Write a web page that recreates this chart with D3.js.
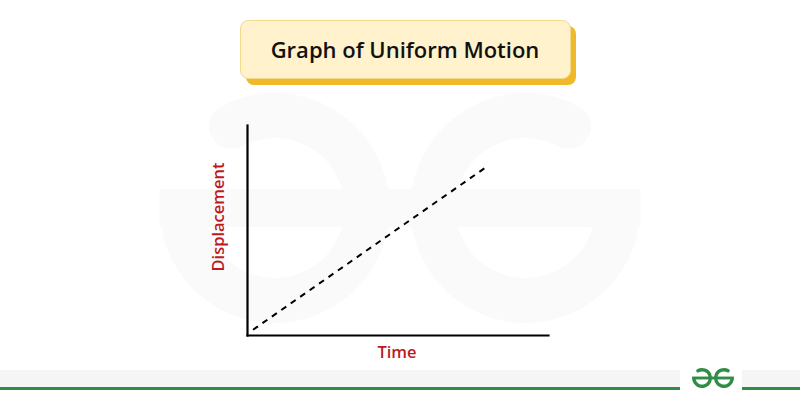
<!DOCTYPE html>
<html>
<head>
<meta charset="utf-8">
<script src="https://cdn.jsdelivr.net/npm/d3@7"></script>
<style>
  html, body { margin: 0; padding: 0; background: #ffffff; }
  svg { display: block; }
</style>
</head>
<body>
<svg id="chart" width="800" height="400"></svg>
<script>
// ---- data ----
const titleText = "Graph of Uniform Motion";
const xLabel = "Time";
const yLabel = "Displacement";
const timeValues = [0.2, 7.9];          // start and end of the uniform-motion line
const displacementValues = [0.25, 7.95];
const xDomain = [0, 10];
const yDomain = [0, 10];

const svg = d3.select("#chart");

// ---- logo helper ----
function drawLogo(g, cx, cy, ro, ri, color) {
  const cL = cx - ro - (ro * 0.09), cR = cx + ro + (ro * 0.09);
  const arc = d3.arc().innerRadius(ri).outerRadius(ro).cornerRadius((ro - ri) / 2);
  const deg = Math.PI / 180;
  g.append("path")
    .attr("transform", `translate(${cL},${cy})`)
    .attr("d", arc({startAngle: -42 * deg, endAngle: 270 * deg}))
    .attr("fill", color);
  g.append("path")
    .attr("transform", `translate(${cR},${cy})`)
    .attr("d", arc({startAngle: 90 * deg, endAngle: 402 * deg}))
    .attr("fill", color);
  const bh = (ro - ri) * 0.85;
  g.append("rect")
    .attr("x", cL - ro).attr("y", cy - bh / 2)
    .attr("width", (cR + ro) - (cL - ro)).attr("height", bh)
    .attr("fill", color);
}

// big faint watermark
drawLogo(svg.append("g"), 400, 208, 115, 70, "#fafafa");

// ---- bottom band ----
svg.append("rect").attr("x", 0).attr("y", 370).attr("width", 800).attr("height", 18).attr("fill", "#f5f5f5");
svg.append("rect").attr("x", 0).attr("y", 387).attr("width", 800).attr("height", 3).attr("fill", "#2f8d46");
svg.append("rect").attr("x", 680).attr("y", 362).attr("width", 62).attr("height", 38).attr("fill", "#ffffff");
drawLogo(svg.append("g"), 713, 378, 10, 6.6, "#2f8d46");

// ---- title box ----
svg.append("rect").attr("x", 246).attr("y", 26).attr("width", 330).attr("height", 59)
  .attr("rx", 8).attr("fill", "#f0b929");
svg.append("rect").attr("x", 240.5).attr("y", 20.5).attr("width", 330).attr("height", 58)
  .attr("rx", 8).attr("fill", "#fff2cc").attr("stroke", "#f3d98a").attr("stroke-width", 1);
svg.append("text").attr("x", 405).attr("y", 57.5)
  .attr("text-anchor", "middle")
  .attr("font-family", "'Open Sans', Lato, sans-serif")
  .attr("font-weight", 600).attr("font-size", 22)
  .attr("fill", "#111111")
  .text(titleText);

// ---- chart ----
const x = d3.scaleLinear().domain(xDomain).range([247, 548]);
const y = d3.scaleLinear().domain(yDomain).range([335, 125]);

const xAxis = d3.axisBottom(x).tickValues([]).tickSizeOuter(0);
const yAxis = d3.axisLeft(y).tickValues([]).tickSizeOuter(0);

const gx = svg.append("g").attr("transform", `translate(0,${y(0)})`).call(xAxis);
const gy = svg.append("g").attr("transform", `translate(${x(0)},0)`).call(yAxis);
[gx, gy].forEach(g => g.select(".domain")
  .attr("stroke", "#000").attr("stroke-width", 2.2).attr("stroke-linecap", "square"));

const pts = timeValues.map((t, i) => [t, displacementValues[i]]);
svg.append("path")
  .datum(pts)
  .attr("d", d3.line().x(d => x(d[0])).y(d => y(d[1])))
  .attr("fill", "none")
  .attr("stroke", "#000")
  .attr("stroke-width", 2)
  .attr("stroke-dasharray", "6,5.5");

// axis labels
svg.append("text").attr("x", 397).attr("y", 358)
  .attr("text-anchor", "middle")
  .attr("font-family", "'Open Sans', Lato, sans-serif")
  .attr("font-weight", 600).attr("font-size", 16.5)
  .attr("fill", "#bb1a1f")
  .text(xLabel);

svg.append("text")
  .attr("transform", `translate(224,${(125 + 335) / 2 - 13}) rotate(-90)`)
  .attr("text-anchor", "middle")
  .attr("font-family", "'Open Sans', Lato, sans-serif")
  .attr("font-weight", 600).attr("font-size", 16.5)
  .attr("fill", "#bb1a1f")
  .text(yLabel);
</script>
</body>
</html>
